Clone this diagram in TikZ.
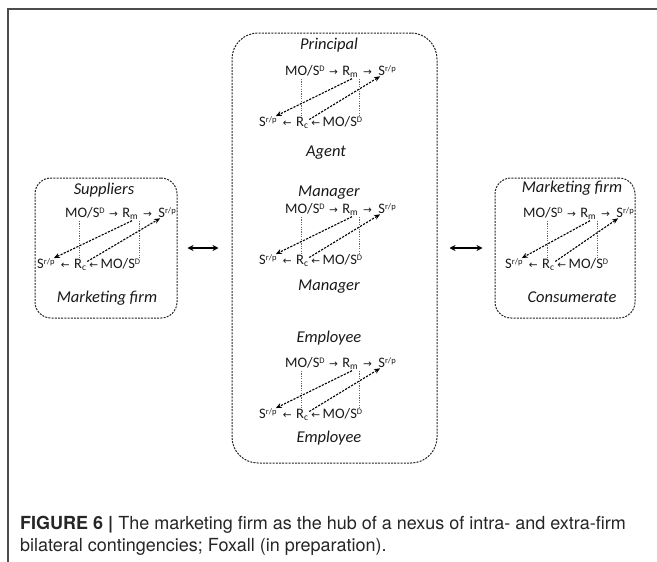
\documentclass[tikz,border=0pt]{standalone}
\usepackage{fontspec}
\setmainfont{Carlito}
\newfontfamily\capfont{TeX Gyre Heros}
\newfontfamily\arrfont{DejaVu Sans}
\usetikzlibrary{arrows.meta,calc}

\newcommand\sups[1]{\raisebox{3.8pt}{\fontsize{8.5}{9}\selectfont #1}}
\newcommand\subs[1]{\raisebox{-2.5pt}{\fontsize{9.5}{10}\selectfont #1}}

\tikzset{
  dbox/.style={draw=black!85, dash pattern=on 2pt off 1.2pt, line width=1pt},
  ft/.style={inner sep=0pt, font=\fontsize{14.5}{16}\selectfont, text=black!90},
  arrtxt/.style={inner sep=0pt, font=\arrfont\fontsize{10.5}{12}\selectfont, text=black!90},
  lab/.style={inner sep=0pt, font=\fontsize{16.5}{18}\selectfont\itshape, text=black!90},
  dotline/.style={draw=black!60, line width=0.7pt, dash pattern=on 1.2pt off 1.2pt},
  diag/.style={draw=black, line width=1.1pt, dash pattern=on 2.2pt off 1.3pt, -{Stealth[length=6pt,width=5pt]}},
  linkarrow/.style={draw=black, line width=1.4pt, {Stealth[length=6pt,width=6pt]}-{Stealth[length=6pt,width=6pt]}},
  captext/.style={inner sep=0pt, font=\capfont\fontsize{18}{22}\selectfont, text=black!85},
  framel/.style={draw=black!70, line width=1.5pt},
}

% #1 prefix, #2 x of top row start, #3 x of bottom row start, #4 y of top baseline
\newcommand\contunit[4]{%
\begin{scope}[shift={(0,#4)}]
  \node[ft,anchor=base west] (#1mo1) at (#2,0) {MO/S\sups{D}};
  \node[arrtxt,anchor=base west] (#1a1) at ([xshift=4pt]#1mo1.base east) {→};
  \node[ft,anchor=base west] (#1rm) at ([xshift=4pt]#1a1.base east) {R\subs{m}};
  \node[arrtxt,anchor=base west] (#1a2) at ([xshift=5pt]#1rm.base east) {→};
  \node[ft,anchor=base west] (#1s1) at ([xshift=6pt]#1a2.base east) {S\sups{r/p}};
  \node[ft,anchor=base west] (#1s2) at (#3,51) {S\sups{r/p}};
  \node[arrtxt,anchor=base west] (#1a3) at ([xshift=6pt]#1s2.base east) {←};
  \node[ft,anchor=base west] (#1rc) at ([xshift=4pt]#1a3.base east) {R\subs{c}};
  \node[arrtxt,anchor=base west] (#1a4) at ([xshift=3pt]#1rc.base east) {←};
  \node[ft,anchor=base west] (#1mo2) at ([xshift=2pt]#1a4.base east) {MO/S\sups{D}};
  \coordinate (#1d1) at ([xshift=-1pt]#1rc.north);
  \coordinate (#1d2) at ([xshift=1pt]#1rm.east);
  \draw[dotline] (#1d1 |- 0,4) -- (#1d1 |- 0,41);
  \draw[dotline] (#1d2 |- 0,4) -- (#1d2 |- 0,41);
  \coordinate (#1p1) at ([xshift=2pt,yshift=-1pt]#1rm.south);
  \coordinate (#1p2) at ([xshift=1pt,yshift=-3pt]#1rc.north east);
  \draw[diag] (#1p1) -- ([xshift=-1pt]#1s2.north east);
  \draw[diag] (#1p2) -- ([xshift=2pt,yshift=-1pt]#1s1.south west);
\end{scope}}

\begin{document}
\begin{tikzpicture}[x=1pt,y=-1pt]
\useasboundingbox (0,0) rectangle (657,562);
\fill[white] (0,0) rectangle (657,562);
\draw[framel] (8,562) -- (8,9) -- (657,9);

% boxes
\node[dbox, rounded corners=16pt, minimum width=142pt, minimum height=140pt] (lbox) at (106,248) {};
\node[dbox, rounded corners=26pt, minimum width=205pt, minimum height=430pt] (cbox) at (334.5,248) {};
\node[dbox, rounded corners=16pt, minimum width=140pt, minimum height=140pt] (rbox) at (565,248) {};

% left box
\node[lab] (lsup) at (104,190) {Suppliers};
\contunit{L}{65}{37}{217}
\node[lab] (lmf) at (107,298) {Marketing firm};

% central box
\node[lab] (cpr) at (329,45) {Principal};
\contunit{A}{285}{259}{75}
\node[lab] (cag) at (326,153) {Agent};
\node[lab] (cm1) at (329,193) {Manager};
\contunit{B}{285}{259}{213}
\node[lab] (cm2) at (329,287) {Manager};
\node[lab] (ce1) at (329,338) {Employee};
\contunit{C}{285}{259}{367}
\node[lab] (ce2) at (329,438) {Employee};

% right box
\node[lab] (rmf) at (572,188) {Marketing firm};
\contunit{R}{523}{505}{217}
\node[lab] (rcon) at (572,297) {Consumerate};

% links
\coordinate (k1) at ([xshift=10pt]lbox.east);
\coordinate (k2) at ([xshift=-13pt]cbox.west);
\coordinate (k3) at ([xshift=12pt]cbox.east);
\coordinate (k4) at ([xshift=-12pt]rbox.west);
\draw[linkarrow] (k1) -- (k2 |- k1);
\draw[linkarrow] (k3 |- k4) -- (k4);

% caption
\node[captext, anchor=base west] (cap1) at (20,529) {\textbf{FIGURE 6 |} The marketing firm as the hub of a nexus of intra- and extra-firm};
\node[captext, anchor=base west] (cap2) at (20,551) {bilateral contingencies; Foxall (in preparation).};
\end{tikzpicture}
\end{document}
